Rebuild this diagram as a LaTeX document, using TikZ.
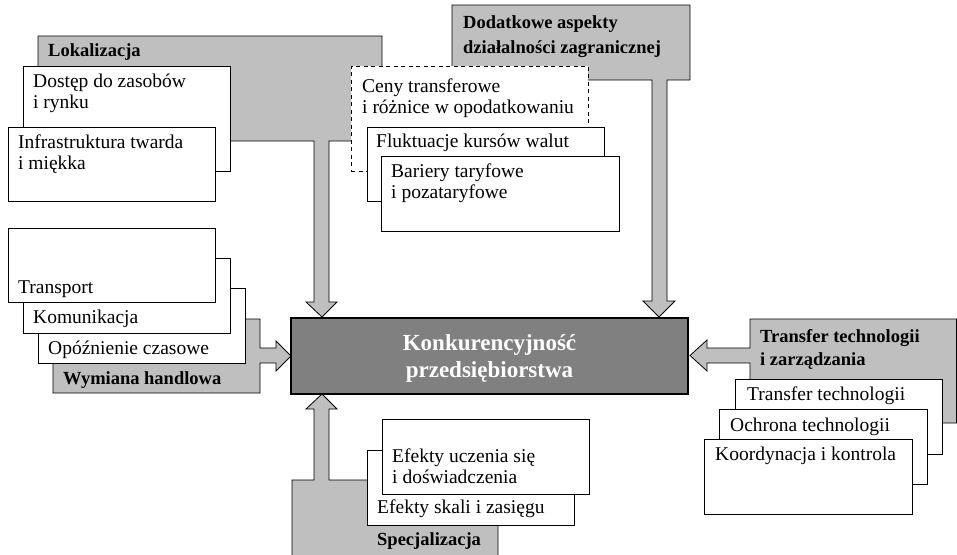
\documentclass[tikz,border=0pt]{standalone}
\usepackage{fontspec}
\setmainfont{Liberation Serif}
\definecolor{lightg}{RGB}{191,191,191}
\definecolor{darkg}{RGB}{128,128,128}
\begin{document}
\begin{tikzpicture}[x=1pt,y=-1pt,
  grayshape/.style={fill=lightg,draw=black,line width=0.8pt,line join=miter},
  wbox/.style={draw=black,fill=white,line width=0.8pt,inner sep=0pt,outer sep=0pt,anchor=north west},
  dbox/.style={wbox,dash pattern=on 4pt off 3.5pt},
  cbox/.style={draw=black,fill=darkg,line width=2.6pt,inner sep=0pt,outer sep=0pt,anchor=north west},
  txt/.style={anchor=base west,inner sep=0pt,align=left,font=\fontsize{19.5}{21}\selectfont},
  btxt/.style={anchor=base west,inner sep=0pt,align=left,font=\fontsize{18.5}{24.5}\selectfont\bfseries},
  ctxt/.style={anchor=base,inner sep=0pt,align=center,text=white,font=\fontsize{23}{27}\selectfont\bfseries}]
\useasboundingbox (0,0) rectangle (957,554);
\clip (0,0) rectangle (957,554);
% central box
\node[cbox,minimum width=397,minimum height=76] (center) at (291,318) {};
\node[ctxt] (tcenter) at (489.5,377) {Konkurencyjność\\przedsiębiorstwa};

% Lokalizacja
\draw[grayshape] (38,36) -- (382,36) -- (382,141) -- (329,141) -- (329,302) -- (337,302)
  -- (322,317) -- (306,302) -- (314,302) -- (314,141) -- (38,141) -- cycle;
\node[btxt] (tlok) at (48,56) {Lokalizacja};
\node[wbox,minimum width=207,minimum height=105] (dostep) at (23,66) {};
\node[txt] (tdostep) at (33,108) {Dostęp do zasobów\\i rynku};
\node[wbox,minimum width=207,minimum height=74] (infra) at (8,127) {};
\node[txt] (tinfra) at (18,169) {Infrastruktura twarda\\i miękka};

% Dodatkowe aspekty
\draw[grayshape] (452,5) -- (690,5) -- (690,80) -- (667,80) -- (667,301) -- (675,301)
  -- (659,317) -- (643,301) -- (652,301) -- (652,80) -- (452,80) -- cycle;
\node[btxt] (tdod) at (463,53) {Dodatkowe aspekty\\działalności zagranicznej};
\node[dbox,minimum width=237,minimum height=105] (ceny) at (351,66) {};
\node[txt] (tceny) at (362,113) {Ceny transferowe\\i różnice w opodatkowaniu};
\node[wbox,minimum width=237,minimum height=74] (fluk) at (367,127) {};
\node[txt] (tfluk) at (376,147) {Fluktuacje kursów walut};
\node[wbox,minimum width=238,minimum height=75] (bar) at (381,156) {};
\node[txt] (tbar) at (391,198) {Bariery taryfowe\\i pozataryfowe};

% Wymiana handlowa
\draw[grayshape] (53,319) -- (260,319) -- (260,348) -- (276,348) -- (276,341) -- (291,356)
  -- (276,371) -- (276,363) -- (260,363) -- (260,393) -- (53,393) -- cycle;
\node[btxt] (twym) at (63,384) {Wymiana handlowa};
\node[wbox,minimum width=207,minimum height=75] (opoz) at (38,288) {};
\node[txt] (topoz) at (48,354) {Opóźnienie czasowe};
\node[wbox,minimum width=207,minimum height=75] (komun) at (23,258) {};
\node[txt] (tkomun) at (33,323) {Komunikacja};
\node[wbox,minimum width=207,minimum height=74] (transp) at (8,228) {};
\node[txt] (ttransp) at (18,293) {Transport};

% Specjalizacja
\draw[grayshape] (292,560) -- (292,480) -- (314,480) -- (314,409) -- (306,409) -- (322,394)
  -- (337,409) -- (329,409) -- (329,480) -- (498,480) -- (498,560);
\node[btxt] (tspec) at (377,545) {Specjalizacja};
\node[wbox,minimum width=207,minimum height=75] (skali) at (367,450) {};
\node[txt] (tskali) at (377,513) {Efekty skali i zasięgu};
\node[wbox,minimum width=207,minimum height=75] (ucz) at (382,419) {};
\node[txt] (tucz) at (392,483) {Efekty uczenia się\\i doświadczenia};

% Transfer technologii i zarzadzania
\draw[grayshape] (750,319) -- (956.5,319) -- (956.5,423) -- (750,423) -- (750,363) -- (707,363)
  -- (707,371) -- (690,355.5) -- (707,340) -- (707,348) -- (750,348) -- cycle;
\node[btxt,font=\fontsize{18.5}{23}\selectfont\bfseries] (ttr) at (760,365) {Transfer technologii\\i zarządzania};
\node[wbox,minimum width=207,minimum height=75] (trt) at (735,379) {};
\node[txt] (ttrt) at (747,400) {Transfer technologii};
\node[wbox,minimum width=208,minimum height=75] (ochr) at (719,409) {};
\node[txt] (tochr) at (730,431) {Ochrona technologii};
\node[wbox,minimum width=208,minimum height=75] (koord) at (704,439) {};
\node[txt] (tkoord) at (715,460) {Koordynacja i kontrola};
\end{tikzpicture}
\end{document}
